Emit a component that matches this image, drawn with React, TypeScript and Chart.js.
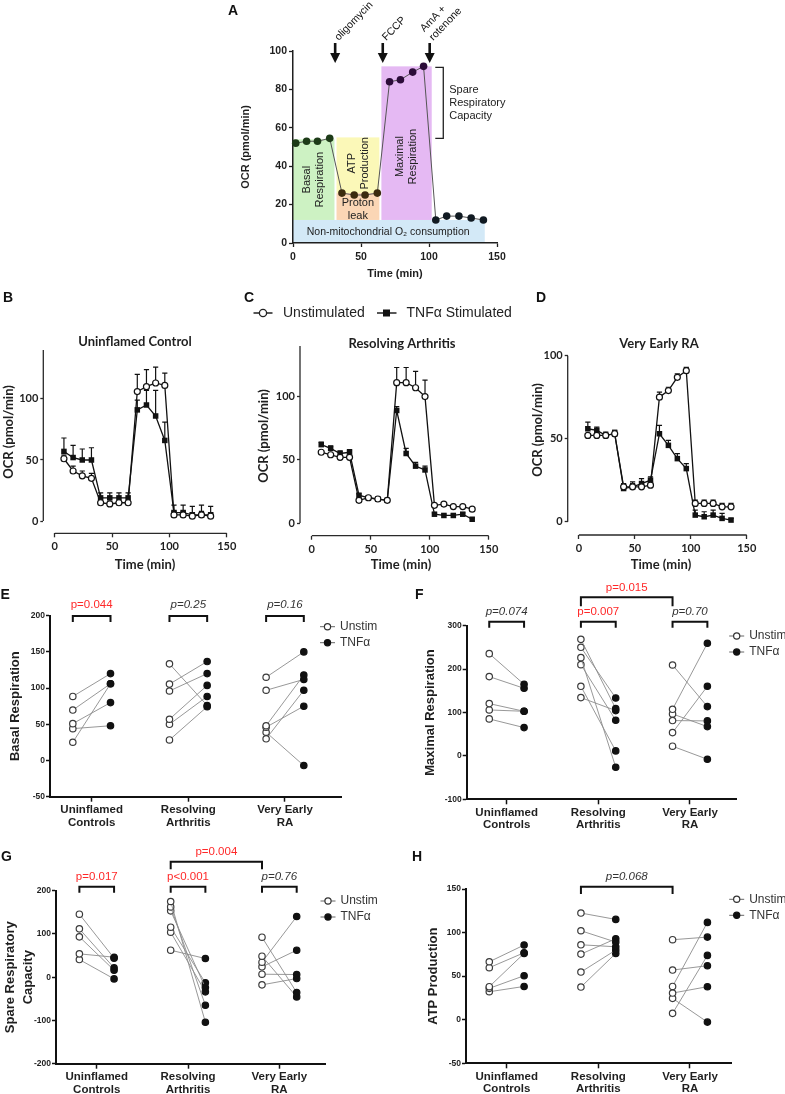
import React, { useEffect, useRef } from 'react';
import { Chart, registerables } from 'chart.js';

Chart.register(...registerables);

// ---------------- page ----------------
const PAGE_W = 785;
const PAGE_H = 1094;
const ARIAL = '"Liberation Sans", Arial, Helvetica, sans-serif';
const LATO = 'Lato, "Open Sans", sans-serif';
const INK = '#1f1f1f';
const RED = '#ff2828';

// ---------------- Panel A: schematic trace ----------------
const timeA = [2, 10, 18, 27, 36, 45, 53, 62, 71, 79, 88, 96, 105, 113, 122, 131, 140];
const ocrA = [52, 53, 53, 54.5, 26, 25, 25, 26, 84, 85, 89, 92, 12, 14, 14, 13, 12];
const phaseSizesA = [4, 4, 4, 5];
const regionLabelsA = [['Basal', 'Respiration'], ['ATP', 'Production'], ['Proton', 'leak'], ['Maximal', 'Respiration'], ['Non-mitochondrial O₂ consumption']];
const regionStartA = [0, 32, 32, 65, 0];
const regionEndA = [30.5, 63.5, 63.5, 102, 141];
const regionLowA = [12, 26, 12, 12, 0];
const regionHighA = [54, 55, 26, 92, 12];
const regionLabelTimeA = [15, 48, 47.7, 83.5, 70];
const regionLabelOcrA = [33, 41.5, 17.3, 45, 5.7];
const injectionTimesA = [31, 66, 100.5];
const injectionLabelsA = [['oligomycin'], ['FCCP'], ['AmA +', 'rotenone']];
const spareTimeA = 110.5;
const spareRangeA = [54.5, 91.5];
const spareLabelA = ['Spare', 'Respiratory', 'Capacity'];
const timeTicksA = [0, 50, 100, 150];
const ocrTicksA = [0, 20, 40, 60, 80, 100];

// ---------------- Panels B-D: time courses ----------------
const timeBD = [8, 16, 24, 32, 40, 48, 56, 64, 72, 80, 88, 96, 104, 112, 120, 128, 136];
const timeTicksBD = [0, 50, 100, 150];
const ocrTicksBD = [0, 50, 100];

const unstimB = [51, 41, 37, 35, 15, 14, 15, 15, 106, 110, 113, 111, 5, 5, 4, 5, 4];
const unstimErrB = [3, 4, 4, 4, 1, 1, 1, 1, 14, 14, 13, 10, 3, 3, 3, 3, 3];
const tnfB = [57, 52, 50, 50, 19, 19, 19, 19, 91, 95, 86, 66, 7, 7, 5, 5, 5];
const tnfErrB = [11, 10, 9, 10, 4, 4, 4, 4, 8, 12, 21, 15, 6, 6, 7, 8, 7];

const unstimC = [56, 54, 52, 52, 18, 20, 19, 18, 111, 111, 107, 100, 14, 15, 13, 13, 11];
const unstimErrC = [1, 1, 1, 1, 1, 1, 1, 1, 12, 12, 13, 13, 1, 1, 1, 1, 1];
const tnfC = [62, 59, 55, 56, 22, 20, 19, 18, 89, 55, 45, 42, 7, 6, 6, 7, 3];
const tnfErrC = [2, 2, 2, 2, 1, 1, 1, 1, 3, 4, 3, 3, 1, 1, 1, 1, 1];

const unstimD = [52, 52, 52, 53, 21, 21, 21, 22, 75, 79, 87, 91, 11, 11, 11, 9, 9];
const unstimErrD = [1, 1, 1, 2, 1, 2, 1, 2, 3, 2, 2, 2, 2, 2, 2, 2, 2];
const tnfD = [56, 55, 52, 53, 20, 21, 23, 25, 53, 46, 38, 32, 4, 3, 4, 2, 1];
const tnfErrD = [4, 2, 2, 2, 3, 3, 3, 2, 5, 3, 3, 3, 3, 3, 3, 3, 1];

// ---------------- Panels E-H: paired donors ----------------
const groupLabels = [['Uninflamed', 'Controls'], ['Resolving', 'Arthritis'], ['Very Early', 'RA']];

const basalUnstim = [[88.5, 69.7, 50.9, 44, 25.2], [133.5, 105.5, 96, 57, 50, 28.4], [115, 97, 48, 46, 39, 30]];
const basalTnf = [[120, 106, 80, 48, 106], [76, 136.7, 120, 103.7, 88.5, 74.3], [150, 112, 118, 75, -7, 97]];
const basalP = ['p=0.044', 'p=0.25', 'p=0.16'];
const basalSig = [true, false, false];

const maxUnstim = [[235.6, 182.7, 120.5, 105.9, 85.2], [268.6, 250.2, 226.4, 210.3, 160.4, 134.3], [209.5, 107.4, 96.7, 81.4, 53.7, 22.3]];
const maxTnf = [[165, 155.8, 102.8, 102.8, 65.2], [109, 133.5, -26.1, 82.1, 11.5, 104.4], [113.6, 259.4, 67.5, 80.6, 160.4, -7.7]];
const maxP = ['p=0.074', 'p=0.007', 'p=0.70'];
const maxSig = [false, true, false];
const maxCrossP = 'p=0.015';
const maxCrossSig = true;

const spareUnstim = [[145.7, 111.8, 93.3, 54, 40.8], [175, 162.6, 153.4, 115.6, 104, 62.4], [92.5, 48.6, 34.7, 23.9, 6.9, -17.7]];
const spareTnf = [[44, 21.6, 16.2, 46.2, -3.9], [-104, -64.7, -23.9, -13, -33.9, 43.2], [-35.5, -45.5, 140.3, 62.4, 6.2, -3.1]];
const spareP = ['p=0.017', 'p<0.001', 'p=0.76'];
const spareSig = [true, true, false];
const spareCrossP = 'p=0.004';
const spareCrossSig = true;

const atpUnstim = [[66.5, 59.7, 37.9, 36, 32.1], [122.4, 102.1, 86, 75.3, 54.7, 37.5], [91.8, 57, 38.2, 30.6, 24.5, 7.3]];
const atpTnf = [[85.7, 76.9, 76.1, 50.5, 38.2], [115.1, 89.1, 83.7, 92.9, 79.9, 76.1], [94.8, 62, 111.7, 37.9, -2.7, 73.8]];
const atpCrossP = 'p=0.068';
const atpCrossSig = false;

// ---------------- styles ----------------
const regionFillA = ['#cdf2c3', '#fbf8b8', '#fbd6b5', '#e5b9f3', '#d3e9f7'];
const regionVerticalA = [true, true, false, true, false];
const regionFontA = [11, 11, 11, 11, 10.5];
const regionDrawOrderA = [4, 0, 1, 2, 3];
const phaseColorA = ['#1d3b18', '#3b2b0f', '#2c0c39', '#111a22'];

// ---------------- helpers ----------------
function fontStr(size: number, weight = 'normal', family = ARIAL, style = 'normal') {
  return `${style} ${weight} ${size}px ${family}`;
}

function drawText(ctx: CanvasRenderingContext2D, text: string | string[], x: number, y: number, font: string, color: string, align: CanvasTextAlign = 'center', rotation = 0, lineHeight = 0) {
  const lines = Array.isArray(text) ? text : [text];
  ctx.save();
  ctx.translate(x, y);
  if (rotation) ctx.rotate(rotation);
  ctx.font = font;
  ctx.fillStyle = color;
  ctx.textAlign = align;
  ctx.textBaseline = 'middle';
  const first = -((lines.length - 1) * lineHeight) / 2;
  lines.forEach((l, i) => ctx.fillText(l, 0, first + i * lineHeight));
  ctx.restore();
}

function layoutFor(L: number, T: number, R: number, B: number, yW: number, xH: number) {
  return { autoPadding: false, padding: { left: L - yW, top: T, right: PAGE_W - R, bottom: PAGE_H - B - xH } };
}

function axis(o: any) {
  const ticks: any = { font: o.font, color: INK, padding: o.pad, autoSkip: false, maxRotation: 0, minRotation: 0 };
  if (o.callback) ticks.callback = o.callback;
  return {
    type: 'linear',
    min: o.min,
    max: o.max,
    afterBuildTicks: (s: any) => { s.ticks = o.ticks.map((v: number) => ({ value: v })); },
    afterFit: (s: any) => { if (o.horizontal) s.height = o.size; else s.width = o.size; },
    ticks,
    grid: { display: true, drawOnChartArea: false, drawTicks: true, tickLength: o.tickLen, tickColor: o.color || INK, tickWidth: o.tickWidth || 1.3 },
    border: { display: o.border !== false, color: o.color || INK, width: o.borderWidth || 1.5 },
    title: o.title ? Object.assign({ display: true, color: INK }, o.title) : { display: false },
  };
}

const baseOptions = {
  responsive: false,
  animation: false,
  devicePixelRatio: 1,
  events: [],
  plugins: { legend: { display: false }, tooltip: { enabled: false }, title: { display: false } },
};

function letter(ctx: CanvasRenderingContext2D, s: string, x: number, y: number) {
  drawText(ctx, s, x, y, fontStr(14, 'bold'), '#111', 'left');
}

// ---------------- Panel A ----------------
function buildA() {
  const pointColors: string[] = [];
  phaseSizesA.forEach((n, i) => { for (let k = 0; k < n; k++) pointColors.push(phaseColorA[i]); });
  const plugin = {
    id: 'panelA',
    beforeDraw(chart: any) {
      const ctx = chart.ctx; const xs = chart.scales.x; const ys = chart.scales.y;
      ctx.save();
      regionDrawOrderA.forEach((i) => {
        const x0 = xs.getPixelForValue(regionStartA[i]); const x1 = xs.getPixelForValue(regionEndA[i]);
        const y0 = ys.getPixelForValue(regionLowA[i]); const y1 = ys.getPixelForValue(regionHighA[i]);
        ctx.fillStyle = regionFillA[i];
        ctx.fillRect(x0, y1, x1 - x0, y0 - y1);
      });
      regionLabelsA.forEach((lines, i) => {
        drawText(ctx, lines, xs.getPixelForValue(regionLabelTimeA[i]), ys.getPixelForValue(regionLabelOcrA[i]), fontStr(regionFontA[i]), '#222', 'center', regionVerticalA[i] ? -Math.PI / 2 : 0, 12.7);
      });
      ctx.restore();
    },
    afterDraw(chart: any) {
      const ctx = chart.ctx; const xs = chart.scales.x; const ys = chart.scales.y; const top = chart.chartArea.top;
      ctx.save();
      injectionTimesA.forEach((t, i) => {
        const x = xs.getPixelForValue(t);
        const y0 = top - 8; const tip = top + 12;
        ctx.fillStyle = '#111';
        ctx.fillRect(x - 1.3, y0, 2.6, tip - 9 - y0);
        ctx.beginPath(); ctx.moveTo(x - 5, tip - 10); ctx.lineTo(x + 5, tip - 10); ctx.lineTo(x, tip); ctx.closePath(); ctx.fill();
        ctx.save();
        ctx.translate(x + 1.5, top - 12);
        ctx.rotate(-46 * Math.PI / 180);
        ctx.font = fontStr(10.5); ctx.textAlign = 'left'; ctx.textBaseline = 'middle'; ctx.fillStyle = '#111';
        const lines = injectionLabelsA[i];
        lines.forEach((l, k) => ctx.fillText(l, 0, (k - (lines.length - 1)) * 12.5));
        ctx.restore();
      });
      const bx = xs.getPixelForValue(spareTimeA);
      const by1 = ys.getPixelForValue(spareRangeA[1]); const by2 = ys.getPixelForValue(spareRangeA[0]);
      ctx.strokeStyle = '#222'; ctx.lineWidth = 1.3;
      ctx.beginPath(); ctx.moveTo(bx - 8, by1); ctx.lineTo(bx, by1); ctx.lineTo(bx, by2); ctx.lineTo(bx - 8, by2); ctx.stroke();
      drawText(ctx, spareLabelA, bx + 6, (by1 + by2) / 2, fontStr(11), '#222', 'left', 0, 13);
      letter(ctx, 'A', 228, 11);
      ctx.restore();
    },
  };
  return {
    type: 'line',
    data: {
      datasets: [{
        data: timeA.map((t, i) => ({ x: t, y: ocrA[i] })),
        borderColor: '#555', borderWidth: 1,
        pointRadius: 3.8, pointBackgroundColor: pointColors, pointBorderColor: pointColors, pointBorderWidth: 0,
        clip: false,
      }],
    },
    options: Object.assign({}, baseOptions, {
      layout: layoutFor(293, 51, 497, 243, 60, 40),
      scales: {
        x: axis({ min: 0, max: 150, ticks: timeTicksA, horizontal: true, size: 40, font: { family: ARIAL, size: 10.5, weight: 'bold' }, pad: 4, tickLen: 4, title: { text: 'Time (min)', font: { family: ARIAL, size: 11, weight: 'bold' }, padding: { top: 0, bottom: 2.4 } } }),
        y: axis({ min: 0, max: 100, ticks: ocrTicksA, horizontal: false, size: 60, font: { family: ARIAL, size: 10.5, weight: 'bold' }, pad: 2, tickLen: 4, title: { text: 'OCR (pmol/min)', font: { family: ARIAL, size: 11, weight: 'bold' }, padding: { top: 6.4, bottom: 0 } } }),
      },
    }),
    plugins: [plugin],
  };
}

// ---------------- Panels B-D ----------------
function buildTimeCourse(p: any) {
  const plugin = {
    id: 'tc' + p.letter,
    beforeDatasetsDraw(chart: any) {
      const ctx = chart.ctx; const xs = chart.scales.x; const ys = chart.scales.y; const area = chart.chartArea;
      ctx.save();
      ctx.strokeStyle = '#2a2a2a'; ctx.lineWidth = 1.3;
      ctx.beginPath();
      ctx.moveTo(area.left, ys.getPixelForValue(0)); ctx.lineTo(area.left, ys.getPixelForValue(p.yTop));
      ctx.moveTo(xs.getPixelForValue(0), area.bottom); ctx.lineTo(xs.getPixelForValue(150), area.bottom);
      ctx.stroke();
      ctx.strokeStyle = '#111'; ctx.lineWidth = 1.2;
      chart.data.datasets.forEach((ds: any, i: number) => {
        const meta = chart.getDatasetMeta(i);
        ds.errUp.forEach((e: number, j: number) => {
          if (!e) return;
          const pt = meta.data[j];
          const yTop = ys.getPixelForValue(ds.data[j].y + e);
          ctx.beginPath();
          ctx.moveTo(pt.x, pt.y); ctx.lineTo(pt.x, yTop);
          ctx.moveTo(pt.x - 2.6, yTop); ctx.lineTo(pt.x + 2.6, yTop);
          ctx.stroke();
        });
      });
      ctx.restore();
    },
    afterDraw(chart: any) {
      const ctx = chart.ctx;
      drawText(ctx, p.title, p.titleX, p.titleY, fontStr(13, 'bold', LATO), INK);
      drawText(ctx, 'OCR (pmol/min)', p.yTitleX, p.yTitleY, fontStr(13, 'bold', LATO), INK, 'center', -Math.PI / 2);
      drawText(ctx, 'Time (min)', p.xTitleX, 565, fontStr(13, 'bold', LATO), INK);
      letter(ctx, p.letter, p.letterX, 298);
      if (p.legend) {
        ctx.save();
        ctx.strokeStyle = '#222'; ctx.lineWidth = 1.5;
        ctx.beginPath(); ctx.moveTo(253.5, 313); ctx.lineTo(272.5, 313); ctx.moveTo(377, 313); ctx.lineTo(396.5, 313); ctx.stroke();
        ctx.fillStyle = '#fff'; ctx.lineWidth = 1.3;
        ctx.beginPath(); ctx.arc(263, 313, 3.6, 0, Math.PI * 2); ctx.fill(); ctx.stroke();
        ctx.fillStyle = '#111'; ctx.fillRect(383, 309.5, 7, 7);
        ctx.restore();
        drawText(ctx, 'Unstimulated', 283, 313, fontStr(14), '#222', 'left');
        drawText(ctx, 'TNFα Stimulated', 406.5, 313, fontStr(14), '#222', 'left');
      }
    },
  };
  const tickFont = { family: LATO, size: 11, weight: 'bold' };
  return {
    type: 'line',
    data: {
      datasets: [
        {
          label: 'Unstimulated', data: timeBD.map((t, i) => ({ x: t, y: p.unstim[i] })), errUp: p.unstimErr,
          borderColor: '#111', borderWidth: 1.3, pointStyle: 'circle', pointRadius: 3,
          pointBackgroundColor: '#fff', pointBorderColor: '#111', pointBorderWidth: 1.2, clip: false,
        },
        {
          label: 'TNFα Stimulated', data: timeBD.map((t, i) => ({ x: t, y: p.tnf[i] })), errUp: p.tnfErr,
          borderColor: '#111', borderWidth: 1.3, pointStyle: 'rect', pointRadius: 3.9,
          pointBackgroundColor: '#111', pointBorderColor: '#111', pointBorderWidth: 0, clip: false,
        },
      ],
    },
    options: Object.assign({}, baseOptions, {
      layout: layoutFor(p.L, p.T, p.R, p.B, 40, 20),
      scales: {
        x: axis({ min: -10, max: 150, ticks: timeTicksBD, horizontal: true, size: 20, font: tickFont, pad: 2.8, tickLen: 4, border: false, color: '#2a2a2a' }),
        y: axis({ min: p.yMin, max: p.yTop, ticks: ocrTicksBD, horizontal: false, size: 40, font: tickFont, pad: 2, tickLen: 3, border: false, color: '#2a2a2a' }),
      },
    }),
    plugins: [plugin],
  };
}

const buildB = () => buildTimeCourse({ letter: 'B', letterX: 3, L: 43.3, T: 350, R: 226.7, B: 533.3, yMin: -10, yTop: 140, unstim: unstimB, unstimErr: unstimErrB, tnf: tnfB, tnfErr: tnfErrB, title: 'Uninflamed Control', titleX: 135, titleY: 341.7, yTitleX: 8.5, yTitleY: 432, xTitleX: 145 });
const buildC = () => buildTimeCourse({ letter: 'C', letterX: 244, L: 300, T: 346, R: 488.7, B: 535.7, yMin: -10, yTop: 140, unstim: unstimC, unstimErr: unstimErrC, tnf: tnfC, tnfErr: tnfErrC, title: 'Resolving Arthritis', titleX: 402, titleY: 344, yTitleX: 263.5, yTitleY: 436, xTitleX: 401, legend: true });
const buildD = () => buildTimeCourse({ letter: 'D', letterX: 536, L: 567.7, T: 355.7, R: 746.7, B: 535, yMin: -8, yTop: 100, unstim: unstimD, unstimErr: unstimErrD, tnf: tnfD, tnfErr: tnfErrD, title: 'Very Early RA', titleX: 659, titleY: 344, yTitleX: 537.5, yTitleY: 430, xTitleX: 661 });

// ---------------- Panels E-H ----------------
function buildPaired(p: any) {
  const dodge = p.dodge;
  const datasets: any[] = [];
  p.unstim.forEach((grp: number[], g: number) => grp.forEach((u: number, k: number) => {
    datasets.push({
      data: [{ x: g + 1 - dodge, y: u }, { x: g + 1 + dodge, y: p.tnf[g][k] }],
      borderColor: '#8c8c8c', borderWidth: 0.9,
      pointRadius: 3.2, pointBackgroundColor: ['#fff', '#111'], pointBorderColor: ['#3a3a3a', '#111'], pointBorderWidth: 1.2,
      clip: false,
    });
  }));
  const xOf = (xs: any, g: number, side: number) => xs.getPixelForValue(g + 1 + (side ? dodge : -dodge));
  const plugin = {
    id: 'pair' + p.letter,
    afterDraw(chart: any) {
      const ctx = chart.ctx; const xs = chart.scales.x;
      ctx.save();
      ctx.strokeStyle = '#111'; ctx.lineWidth = 2;
      const bracket = (xa: number, xb: number, y: number, leg: number, text: string, sig: boolean, gap: number) => {
        ctx.strokeStyle = '#111'; ctx.lineWidth = 2;
        ctx.beginPath(); ctx.moveTo(xa, y + leg); ctx.lineTo(xa, y); ctx.lineTo(xb, y); ctx.lineTo(xb, y + leg); ctx.stroke();
        drawText(ctx, text, (xa + xb) / 2, y - gap, fontStr(11.5, 'normal', ARIAL, sig ? 'normal' : 'italic'), sig ? RED : '#333');
      };
      if (p.within) {
        p.within.forEach((t: string, g: number) => bracket(xOf(xs, g, 0), xOf(xs, g, 1), p.lowY, 6, t, p.withinSig[g], p.lowGap));
      }
      if (p.cross) {
        bracket(xOf(xs, 1, 0), xOf(xs, 2, 0), p.highY, p.highLeg, p.cross, p.crossSig, 9.5);
      }
      const lx = p.legendX; const ly = p.legendY;
      [['Unstim', false], ['TNFα', true]].forEach((item: any, i: number) => {
        const y = ly + i * 16;
        ctx.strokeStyle = '#666'; ctx.lineWidth = 1;
        ctx.beginPath(); ctx.moveTo(lx - 7.5, y); ctx.lineTo(lx + 7.5, y); ctx.stroke();
        ctx.fillStyle = item[1] ? '#111' : '#fff'; ctx.strokeStyle = item[1] ? '#111' : '#333'; ctx.lineWidth = 1.2;
        ctx.beginPath(); ctx.arc(lx, y, 3.1, 0, Math.PI * 2); ctx.fill(); ctx.stroke();
        drawText(ctx, item[0], lx + 12.5, y, fontStr(12), '#333', 'left');
      });
      letter(ctx, p.letter, p.letterX, p.letterY);
      ctx.restore();
    },
  };
  return {
    type: 'line',
    data: { datasets },
    options: Object.assign({}, baseOptions, {
      layout: layoutFor(p.L, p.T, p.R, p.B, p.yW, 30),
      scales: {
        x: axis({ min: p.xMin, max: p.xMax, ticks: [1, 2, 3], horizontal: true, size: 30, font: { family: ARIAL, size: 11.5, weight: 'bold', lineHeight: 1.1 }, pad: 2, tickLen: 5, tickWidth: 1.5, borderWidth: 2, color: '#111', callback: (v: number) => groupLabels[Math.round(v) - 1] }),
        y: axis({ min: p.yMin, max: p.yMax, ticks: p.yTicks, horizontal: false, size: p.yW, font: { family: ARIAL, size: 8.5, weight: 'bold' }, pad: 1, tickLen: 4, tickWidth: 1.5, borderWidth: 2, color: '#111', title: { text: p.yTitle, font: { family: ARIAL, size: 13, weight: 'bold', lineHeight: p.yTitleLH || 1.2 }, padding: { top: p.yTitlePad, bottom: 0 } } }),
      },
    }),
    plugins: [plugin],
  };
}

const buildE = () => buildPaired({ letter: 'E', letterX: 0.5, letterY: 595, L: 50, T: 615.7, R: 341.7, B: 796.7, yW: 50, xMin: 0.569, xMax: 3.587, yMin: -50, yMax: 200, yTicks: [-50, 0, 50, 100, 150, 200], dodge: 0.195, unstim: basalUnstim, tnf: basalTnf, yTitle: 'Basal Respiration', yTitlePad: 7.2, within: basalP, withinSig: basalSig, lowY: 616, lowGap: 11, legendX: 327.5, legendY: 626.7 });
const buildF = () => buildPaired({ letter: 'F', letterX: 415, letterY: 595, L: 466.7, T: 625.7, R: 736.7, B: 799.3, yW: 50, xMin: 0.564, xMax: 3.51, yMin: -100, yMax: 300, yTicks: [-100, 0, 100, 200, 300], dodge: 0.19, unstim: maxUnstim, tnf: maxTnf, yTitle: 'Maximal Respiration', yTitlePad: 5.5, within: maxP, withinSig: maxSig, lowY: 621.7, lowGap: 9.5, cross: maxCrossP, crossSig: maxCrossSig, highY: 597.3, highLeg: 9, legendX: 736.7, legendY: 636 });
const buildG = () => buildPaired({ letter: 'G', letterX: 1, letterY: 857, L: 56, T: 890.7, R: 325, B: 1063.7, yW: 56, xMin: 0.554, xMax: 3.5, yMin: -200, yMax: 200, yTicks: [-200, -100, 0, 100, 200], dodge: 0.19, unstim: spareUnstim, tnf: spareTnf, yTitle: ['Spare Respiratory', 'Capacity'], yTitleLH: 1.4, yTitlePad: 0.9, within: spareP, withinSig: spareSig, lowY: 886.7, lowGap: 9.5, cross: spareCrossP, crossSig: spareCrossSig, highY: 861.7, highLeg: 7.6, legendX: 328, legendY: 901 });
const buildH = () => buildPaired({ letter: 'H', letterX: 412, letterY: 857, L: 466, T: 889, R: 731.7, B: 1063.3, yW: 50, xMin: 0.556, xMax: 3.455, yMin: -50, yMax: 150, yTicks: [-50, 0, 50, 100, 150], dodge: 0.19, unstim: atpUnstim, tnf: atpTnf, yTitle: 'ATP Production', yTitlePad: 9.5, cross: atpCrossP, crossSig: atpCrossSig, highY: 886.7, highLeg: 7.3, legendX: 736.7, legendY: 899.3 });

// ---------------- React ----------------
function ChartLayer({ make }: { make: () => any }) {
  const ref = useRef<HTMLCanvasElement | null>(null);
  useEffect(() => {
    if (!ref.current) return;
    const chart = new Chart(ref.current, make());
    return () => chart.destroy();
  }, [make]);
  return (
    <canvas
      ref={ref}
      width={PAGE_W}
      height={PAGE_H}
      style={{ position: 'absolute', left: 0, top: 0, width: PAGE_W, height: PAGE_H, pointerEvents: 'none' }}
    />
  );
}

const builders = [buildA, buildB, buildC, buildD, buildE, buildF, buildG, buildH];

export default function App() {
  return (
    <div style={{ position: 'absolute', left: 0, top: 0, width: PAGE_W, height: PAGE_H, background: '#fff', overflow: 'hidden' }}>
      {builders.map((b, i) => <ChartLayer key={i} make={b} />)}
    </div>
  );
}
